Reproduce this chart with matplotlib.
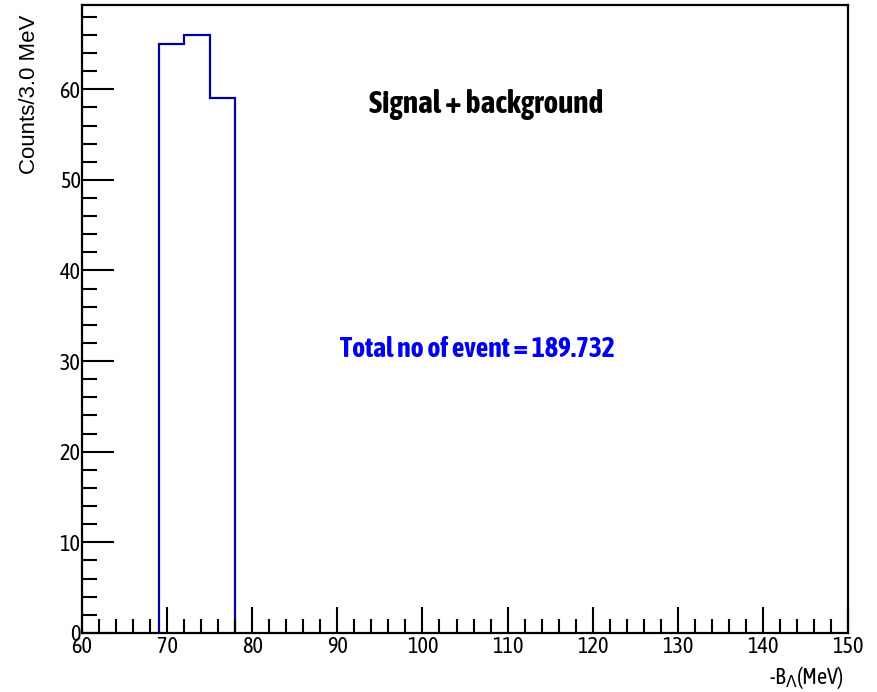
import matplotlib.pyplot as plt
from matplotlib import font_manager
from matplotlib.ticker import MultipleLocator

# histogram content
bin_edges = [69, 72, 75, 78]
counts = [65, 66, 59]
total_events = 189.732

# the reference uses a tall narrow (Arial-like) face; take a condensed one that also has a bold
names = {}
for f in font_manager.fontManager.ttflist:
    n = f.name
    if ('Narrow' in n or 'Condensed' in n) and 'Extra' not in n and 'Semi' not in n:
        w = f.weight if isinstance(f.weight, int) else 400
        names.setdefault(n, set()).add(w)
narrow_name = None
for n, ws in sorted(names.items()):
    if 400 in ws and max(ws) >= 700:
        narrow_name = n
        break
if narrow_name is None and names:
    narrow_name = sorted(names)[0]
base = ['Liberation Sans', 'DejaVu Sans']
narrow = ([narrow_name] if narrow_name else []) + base
plt.rcParams['font.family'] = narrow

fig = plt.figure(figsize=(8.77, 6.92), dpi=100)
ax = fig.add_axes([0.0935, 0.0853, 0.8735, 0.9075])

ax.stairs(counts, bin_edges, baseline=0, color='#000099', linewidth=1.6)

ax.set_xlim(60, 150)
ax.set_ylim(0, 69.3)
ax.xaxis.set_major_locator(MultipleLocator(10))
ax.xaxis.set_minor_locator(MultipleLocator(2))
ax.yaxis.set_major_locator(MultipleLocator(10))
ax.yaxis.set_minor_locator(MultipleLocator(2))
ax.tick_params(which='both', direction='in', width=1.5, labelsize=16)
ax.tick_params(which='major', length=19, pad=2)
ax.tick_params(which='minor', length=10)
ax.tick_params(axis='y', which='major', length=23, pad=1)
ax.tick_params(axis='y', which='minor', length=11)
for s in ax.spines.values():
    s.set_linewidth(1.6)

ax.set_ylabel('Counts/3.0 MeV', family=base, fontsize=16)
ax.yaxis.set_label_coords(-0.055, 0.985)
ax.yaxis.label.set_horizontalalignment('right')
ax.set_xlabel(r'-B$_{\Lambda}$(MeV)', fontsize=16)
ax.xaxis.set_label_coords(0.995, -0.05)
ax.xaxis.label.set_horizontalalignment('right')

ax.text(107.5, 58.3, 'Signal + background', fontsize=22.5, fontweight='bold',
        ha='center', va='center')
ax.text(106.5, 31.3, 'Total no of event = %.3f' % total_events, fontsize=20,
        fontweight='bold', color='#0000ee', ha='center', va='center')

fig.savefig('out.png', dpi=100)
